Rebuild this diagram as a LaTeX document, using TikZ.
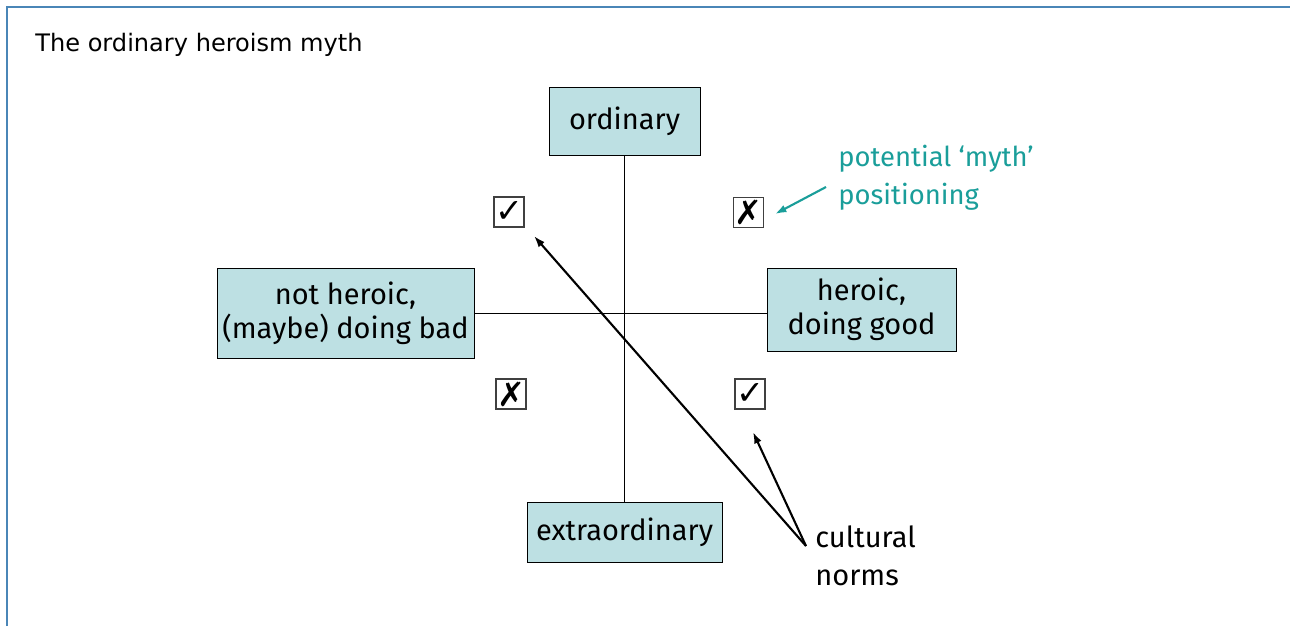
\documentclass[tikz,border=0pt]{standalone}
\usepackage{fontspec}
\setmainfont{Fira Sans}
\newfontfamily\titlefont{DejaVu Sans}
\newfontfamily\symfont{DejaVu Sans}
\usepackage{xcolor}
\usepackage{tikz}
\usetikzlibrary{arrows,arrows.meta,shapes,positioning,calc}

\definecolor{boxblue}{RGB}{189,224,227}
\definecolor{mythteal}{RGB}{26,158,154}
\definecolor{frameblue}{RGB}{74,134,183}

\tikzset{
  catbox/.style={draw, rectangle, fill=boxblue, align=center, inner sep=2pt,
    font=\fontsize{16.5}{19.5}\selectfont},
  tickbox/.style={draw=black!75, rectangle, line width=0.8pt, minimum size=0.6cm,
    inner sep=0pt, font=\symfont\fontsize{19}{19}\selectfont},
  axis/.style={line width=0.6pt},
  pointer/.style={-{Latex[length=6.5pt,width=4.5pt]}, line width=1.2pt},
  note/.style={align=left, inner sep=0pt, font=\fontsize{16.5}{21.5}\selectfont}
}

\begin{document}
\begin{tikzpicture}[x=0.02cm, y=-0.02cm]
    \useasboundingbox (0,0) rectangle (1290,626);
    % frame
    \draw[frameblue, line width=1.2pt] (7,626) -- (7,7) -- (1290,7);
    \node[anchor=west, inner sep=0pt, font=\titlefont\fontsize{13.7}{16}\selectfont] (title) at (35,45) {The ordinary heroism myth};

    % the four poles
    \node[catbox, minimum width=3.02cm, minimum height=1.36cm] (ordinary) at (624.5,121) {ordinary};
    \node[catbox, minimum width=3.9cm, minimum height=1.2cm] (extra) at (624.5,532) {extraordinary};
    \node[catbox, minimum width=5.14cm, minimum height=1.8cm] (notheroic) at (345.5,313.5) {not heroic,\\(maybe) doing bad};
    \node[catbox, minimum width=3.78cm, minimum height=1.66cm] (heroic) at (861.5,309.5) {heroic,\\doing good};

    \draw[axis] (ordinary) -- (extra);
    \draw[axis] (notheroic.east) -- (notheroic.east -| heroic.west);

    % quadrant marks
    \node[tickbox] (tl) at (509,212) {✓};
    \node[tickbox] (tr) at (748.5,212.5) {✗};
    \node[tickbox] (bl) at (511,394) {✗};
    \node[tickbox] (br) at (750,394) {✓};

    % annotations
    \node[note, text=mythteal, anchor=west, font=\fontsize{15.6}{21.5}\selectfont] (myth) at (838,178) {potential ‘myth’\\positioning};
    \node[note, anchor=west] (norms) at (815,556) {cultural\\norms};

    \coordinate (mythtail) at (826,187);
    \coordinate (mythtip) at (775,214);
    \coordinate (normsfoot) at (806,546);
    \coordinate (tltip) at (534,236);
    \coordinate (brtip) at (753,432);

    \draw[pointer, mythteal] (mythtail) -- (mythtip);
    \draw[pointer] (normsfoot) -- (tltip);
    \draw[pointer] (normsfoot) -- (brtip);
\end{tikzpicture}
\end{document}
